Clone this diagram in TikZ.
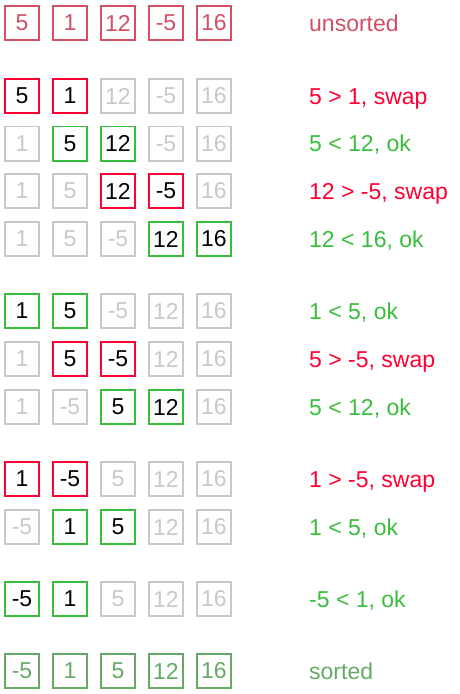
\documentclass[tikz,border=0pt]{standalone}
\usepackage{fontspec}
\setmainfont{Liberation Sans}
\usetikzlibrary{positioning}
\definecolor{myrose}{RGB}{210,80,100}
\definecolor{myred}{RGB}{255,0,51}
\definecolor{mygreen}{RGB}{55,190,60}
\definecolor{mygray}{RGB}{200,200,200}
\definecolor{mysage}{RGB}{102,170,102}

\begin{document}
\begin{tikzpicture}[
    x=1pt, y=-1pt,
    cell/.style={draw,line width=1.6pt,minimum size=34.4pt,inner sep=0pt,font=\fontsize{23}{23}\selectfont},
    uns/.style={cell,myrose,text=myrose},
    swp/.style={cell,myred,text=black},
    okk/.style={cell,mygreen,text=black},
    idle/.style={cell,mygray,text=mygray},
    srt/.style={cell,mysage,text=mysage},
    note/.style={anchor=base west,inner sep=0pt,font=\fontsize{23}{23}\selectfont}
]
    \useasboundingbox (0,0) rectangle (460,694);

    % Start
    \foreach \v/\s [count=\i] in {5/uns,1/uns,12/uns,-5/uns,16/uns}
        \node[\s] (a\i) at (48*\i-26,23) {\v};
    \node[note,myrose] (la) at (309,31.2) {unsorted};

    % Pass 1
    \foreach \v/\s [count=\i] in {5/swp,1/swp,12/idle,-5/idle,16/idle}
        \node[\s] (b\i) at (48*\i-26,96) {\v};
    \node[note,myred] (lb) at (309,104.2) {5 > 1, swap};
    \foreach \v/\s [count=\i] in {1/idle,5/okk,12/okk,-5/idle,16/idle}
        \node[\s] (c\i) at (48*\i-26,143.5) {\v};
    \node[note,mygreen] (lc) at (309,151.7) {5 < 12, ok};
    \foreach \v/\s [count=\i] in {1/idle,5/idle,12/swp,-5/swp,16/idle}
        \node[\s] (d\i) at (48*\i-26,191) {\v};
    \node[note,myred] (ld) at (309,199.2) {12 > -5, swap};
    \foreach \v/\s [count=\i] in {1/idle,5/idle,-5/idle,12/okk,16/okk}
        \node[\s] (e\i) at (48*\i-26,239) {\v};
    \node[note,mygreen] (le) at (309,247.2) {12 < 16, ok};

    % Pass 2
    \foreach \v/\s [count=\i] in {1/okk,5/okk,-5/idle,12/idle,16/idle}
        \node[\s] (f\i) at (48*\i-26,311) {\v};
    \node[note,mygreen] (lf) at (309,319.2) {1 < 5, ok};
    \foreach \v/\s [count=\i] in {1/idle,5/swp,-5/swp,12/idle,16/idle}
        \node[\s] (g\i) at (48*\i-26,359) {\v};
    \node[note,myred] (lg) at (309,367.2) {5 > -5, swap};
    \foreach \v/\s [count=\i] in {1/idle,-5/idle,5/okk,12/okk,16/idle}
        \node[\s] (h\i) at (48*\i-26,407) {\v};
    \node[note,mygreen] (lh) at (309,415.2) {5 < 12, ok};

    % Pass 3
    \foreach \v/\s [count=\i] in {1/swp,-5/swp,5/idle,12/idle,16/idle}
        \node[\s] (k\i) at (48*\i-26,479) {\v};
    \node[note,myred] (lk) at (309,487.2) {1 > -5, swap};
    \foreach \v/\s [count=\i] in {-5/idle,1/okk,5/okk,12/idle,16/idle}
        \node[\s] (m\i) at (48*\i-26,527) {\v};
    \node[note,mygreen] (lm) at (309,535.2) {1 < 5, ok};

    % Pass 4
    \foreach \v/\s [count=\i] in {-5/okk,1/okk,5/idle,12/idle,16/idle}
        \node[\s] (n\i) at (48*\i-26,599) {\v};
    \node[note,mygreen] (ln) at (309,607.2) {-5 < 1, ok};

    % Done
    \foreach \v/\s [count=\i] in {-5/srt,1/srt,5/srt,12/srt,16/srt}
        \node[\s] (p\i) at (48*\i-26,671) {\v};
    \node[note,mysage] (lp) at (309,679.2) {sorted};
\end{tikzpicture}
\end{document}
